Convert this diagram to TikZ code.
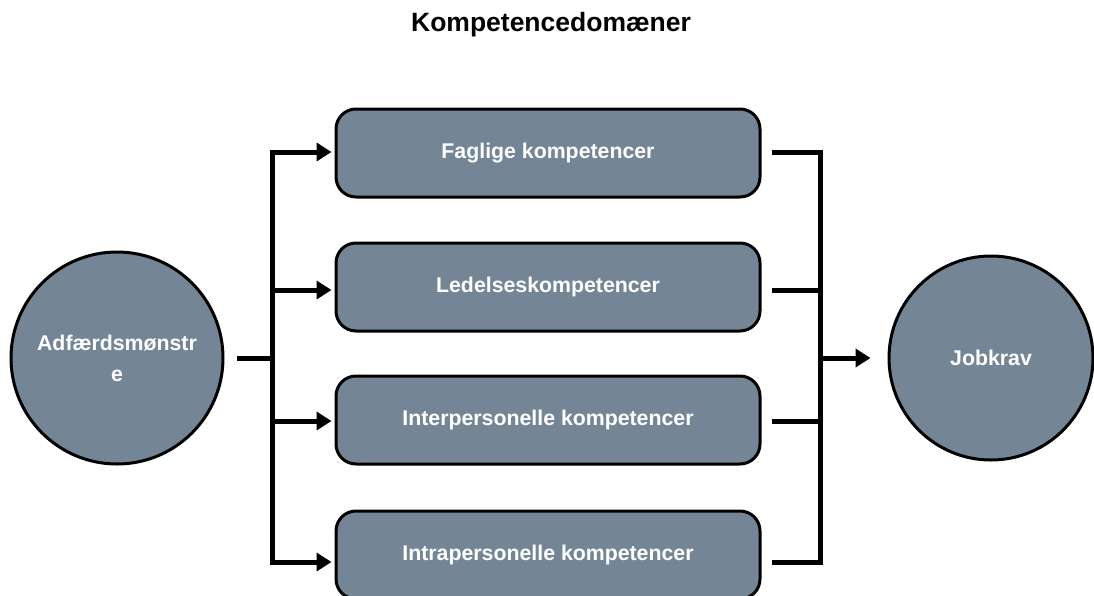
\documentclass[tikz,border=0pt]{standalone}
\usepackage{fontspec}
\setmainfont{Liberation Sans}
\usetikzlibrary{arrows.meta,calc}
\definecolor{slate}{RGB}{116,134,149}
\begin{document}
\begin{tikzpicture}[x=1pt,y=-1pt,
  box/.style={draw=black, line width=3pt, fill=slate, rounded corners=20pt,
    minimum width=424pt, minimum height=88pt, inner sep=0pt, text=white,
    font=\bfseries\fontsize{21.3}{26}\selectfont},
  disc/.style={circle, draw=black, line width=3pt, fill=slate, inner sep=0pt,
    text=white, align=center, font=\bfseries\fontsize{21.3}{31}\selectfont},
  wire/.style={line width=5pt},
  arr/.style={wire, -{Triangle[length=15pt,width=18pt]}}]
\useasboundingbox (0,0) rectangle (1094,595);

% heading
\node[font=\bfseries\fontsize{26.5}{30}\selectfont] (title) at (551,25) {Kompetencedomæner};

% end points
\node[disc, minimum size=212pt] (lc) at (117,358) {Adfærdsmønstr\\e};
\node[disc, minimum size=204pt] (rc) at (991,358) {Jobkrav};

% the four competence domains
\node[box] (b1) at (548,153) {Faglige kompetencer};
\node[box] (b2) at (548,287) {Ledelseskompetencer};
\node[box] (b3) at (548,420) {Interpersonelle kompetencer};
\node[box] (b4) at (548,555) {Intrapersonelle kompetencer};

% left fan-out
\coordinate (ljoin) at (272,358);
\coordinate (lt) at (272,152);
\coordinate (lb) at (272,562);
\coordinate (t1) at ([xshift=-3pt,yshift=1pt]b1.west);
\coordinate (t2) at ([xshift=-3pt,yshift=-3pt]b2.west);
\coordinate (t3) at ([xshift=-3pt,yshift=-1pt]b3.west);
\coordinate (t4) at ([xshift=-3pt,yshift=-7pt]b4.west);
\draw[wire] ([xshift=12pt]lc.east) -- (ljoin);
\draw[wire, line cap=rect] (lt) -- (lb);
\draw[arr] (lt |- t1) -- (t1);
\draw[arr] (lt |- t2) -- (t2);
\draw[arr] (lt |- t3) -- (t3);
\draw[arr] (lt |- t4) -- (t4);

% right fan-in
\coordinate (rt) at (820,152);
\coordinate (rb) at (820,562);
\coordinate (rjoin) at (820,358);
\coordinate (s1) at ([xshift=10pt,yshift=1pt]b1.east);
\coordinate (s2) at ([xshift=10pt,yshift=-3pt]b2.east);
\coordinate (s3) at ([xshift=10pt,yshift=-1pt]b3.east);
\coordinate (s4) at ([xshift=10pt,yshift=-7pt]b4.east);
\draw[wire, line cap=rect] (rt) -- (rb);
\draw[wire] (s1) -- (rt |- s1);
\draw[wire] (s2) -- (rt |- s2);
\draw[wire] (s3) -- (rt |- s3);
\draw[wire] (s4) -- (rt |- s4);
\draw[arr] (rjoin) -- ([xshift=-17pt]rc.west);
\end{tikzpicture}
\end{document}
